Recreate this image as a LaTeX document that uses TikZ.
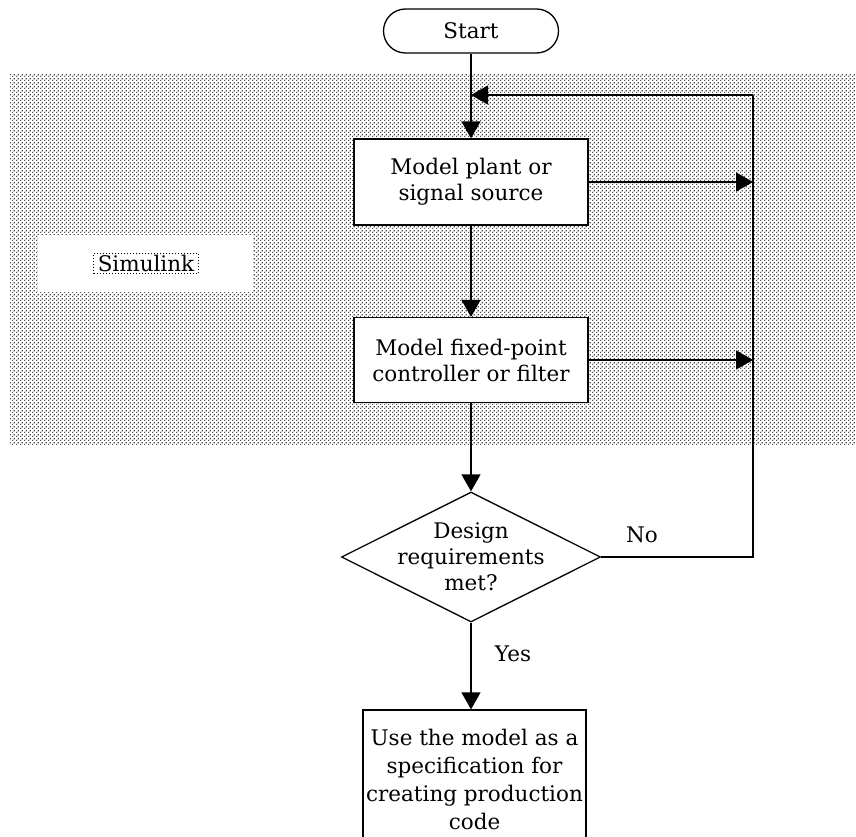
\documentclass[tikz,border=0pt]{standalone}
\usepackage{fontspec}
\setmainfont{DejaVu Serif}
\usetikzlibrary{arrows.meta,shapes.geometric,shapes.misc,patterns}
\pgfdeclarepatternformonly{simdots}{\pgfqpoint{0pt}{0pt}}{\pgfqpoint{4pt}{4pt}}{\pgfqpoint{4pt}{4pt}}{%
  \pgfpathrectangle{\pgfqpoint{0pt}{0pt}}{\pgfqpoint{1.5pt}{1.5pt}}%
  \pgfpathrectangle{\pgfqpoint{2pt}{2pt}}{\pgfqpoint{1.5pt}{1.5pt}}%
  \pgfusepath{fill}}
\tikzset{
  txt/.style={font=\fontsize{21.5}{26}\selectfont},
  flowbox/.style={txt, draw, fill=white, line width=1.3pt, align=center, inner sep=0pt,
                  minimum width=234pt, minimum height=86pt},
  startnode/.style={txt, draw, fill=white, line width=1.3pt, rounded rectangle,
                  minimum width=175pt, minimum height=44pt, inner sep=0pt},
  decision/.style={draw, fill=white, line width=1.3pt, diamond,
                  minimum width=259pt, minimum height=130pt, inner sep=0pt},
  conn/.style={line width=1.4pt, -{Triangle[length=17pt,width=19pt]}},
  plainline/.style={line width=1.4pt},
}
\begin{document}
\begin{tikzpicture}[x=1pt,y=-1pt]
  \clip (0,0) rectangle (856,837);
  \fill[white] (0,0) rectangle (856,837);
  % shaded Simulink region
  \fill[pattern=simdots, pattern color=black!70] (10,75) rectangle (856,445);
  \node[fill=white, minimum width=215pt, minimum height=57pt, inner sep=0pt] (simbg) at (145.5,263.5) {};
  \node[txt, draw, dash pattern=on 1pt off 2pt, line width=0.8pt, inner xsep=4pt, inner ysep=2pt] (sim) at (146,263.5) {Simulink};

  % nodes
  \node[startnode] (start) at (471,31) {Start};
  \node[flowbox] (b1) at (471,182) {Model plant or\\signal source};
  \node[flowbox, minimum height=85pt] (b2) at (471,360) {Model fixed-point\\controller or filter};
  \node[decision, label={[txt, align=center]center:Design\\requirements\\met?}] (dec) at (471,557) {};
  \node[flowbox, font=\fontsize{21.5}{28}\selectfont, minimum width=223pt, minimum height=139pt] (b3) at (474.5,779.5)
    {Use the model as a\\specification for\\creating production\\code};

  \node[txt] (no) at (642,535) {No};
  \node[txt] (yes) at (513,654) {Yes};

  % connectors
  \coordinate (fbtop) at (753,95);
  \coordinate (merge) at (471,95);
  \draw[conn] (start.south) -- (b1.north);
  \draw[conn] (b1.south) -- (b2.north);
  \draw[conn] (b2.south) -- (dec.north);
  \draw[conn] (dec.south) -- (dec.south |- b3.north);
  \draw[plainline] (dec.east) -- (dec.east -| fbtop) -- (fbtop);
  \draw[conn] (fbtop) -- (merge);
  \draw[conn] (b1.east) -- (b1.east -| fbtop);
  \draw[conn] (b2.east) -- (b2.east -| fbtop);
\end{tikzpicture}
\end{document}
